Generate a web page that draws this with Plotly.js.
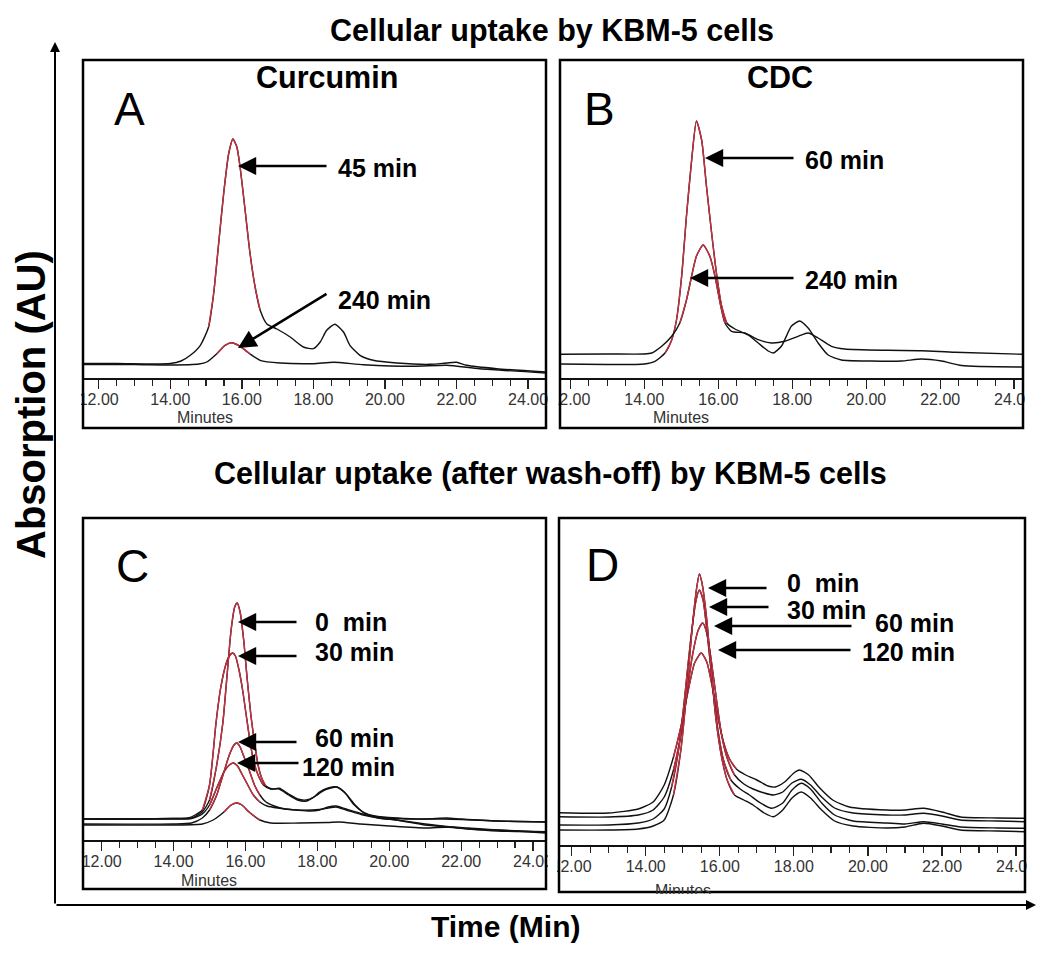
<!DOCTYPE html>
<html><head><meta charset="utf-8">
<script src="https://cdn.plot.ly/plotly-3.0.1.min.js"></script>
<style>
body{margin:0;background:#fff}
#wrap{position:relative;width:1050px;height:956px}
#chart{width:1050px;height:956px}
.mask{position:absolute;background:#fff}
</style>
</head><body>
<div id="wrap"><div id="chart"></div>
<div class="mask" style="left:57px;top:382px;width:24px;height:30px"></div>
<div class="mask" style="left:548px;top:382px;width:10px;height:30px"></div>
<div class="mask" style="left:1025px;top:382px;width:25px;height:30px"></div>
<div class="mask" style="left:57px;top:846px;width:24px;height:30px"></div>
<div class="mask" style="left:548px;top:850px;width:9px;height:30px"></div>
<div class="mask" style="left:1027px;top:850px;width:23px;height:30px"></div>
<div class="mask" style="left:561px;top:894px;width:463px;height:9px"></div>
</div>
<script>
// ---------- DATA (time in minutes, absorbance in arbitrary units) ----------
// Panel A: Curcumin uptake
const tA45 = [11.56,12.5,13.5,14.0,14.3,14.56,14.84,15.07,15.21,15.35,15.49,15.63,15.75,15.86,15.95,16.09,16.23,16.37,16.51,16.7,16.98,17.35,17.72,18.0,18.19,18.37,18.6,18.84,19.02,19.3,19.67,20.33,21.26,21.72,22.0,22.28,23.12,24.5];
const yA45 = [14.5,14.5,14,14.5,17,22.7,32.7,51,84,134,184,224,239,231,211,168,124,91,68,54,49,41,31,29.3,36,47.7,53.7,46,32.7,22.7,17.7,15,13.7,15,15.7,12.7,9.3,6];
const tA240 = [11.56,13,14,14.8,15.02,15.3,15.53,15.72,15.95,16.23,16.51,17.07,18.0,18.56,19.4,20.8,21.72,22.65,24.5];
const yA240 = [13.5,13.5,13,14,16,24.3,32.7,35.3,31.7,24,17.7,15,14.3,15.7,13.3,11.7,12.7,9.3,5];
// Panel B: CDC uptake
const tB60 = [11.72,13,14.0,14.29,14.56,14.74,14.87,15.01,15.14,15.28,15.41,15.55,15.68,15.82,15.95,16.09,16.23,16.45,16.81,17.08,17.35,17.49,17.71,17.98,18.2,18.43,18.7,18.97,19.33,20.14,20.95,21.5,22.04,22.58,24.24];
const yB60 = [14,13.5,14,16.7,25,38,58,102,162,218,257,238,192,145,105,72,55,49,43,35,27,25,32,52,57,50,35,23,18,17,17,19,17,12.5,11];
const tB240 = [11.72,13,14.0,14.2,14.47,14.74,14.96,15.14,15.28,15.41,15.59,15.77,15.91,16.05,16.18,16.36,16.72,17.08,17.44,17.8,18.16,18.43,18.7,19.06,19.42,20.59,21.5,22.4,24.24];
const yB240 = [23.7,24,24,25,31.7,41.7,55,78,102,122,133,122,102,75,55,46.7,45,38.3,35,36.7,41.7,45,40,31.7,29,27.7,27.3,25.7,23.7];
// Panel C: Curcumin after wash-off
const tC0 = [11.48,13.0,14.0,14.5,14.8,15.0,15.2,15.37,15.5,15.6,15.7,15.77,15.85,15.95,16.05,16.15,16.25,16.35,16.45,16.57,16.75,16.94,17.2,17.45,17.69,17.9,18.06,18.3,18.52,18.75,19.0,19.27,19.6,20.2,21.0,21.6,22.0,23.0,24.36];
const yC0 = [21,21,21.5,22,28,40,75,117,170,210,233,237,228,200,160,125,98,75,62,54,51,51.7,46,41,40,43,48,52,53.3,48,36,28,24,22,21,22,21,19,18];
const tC30 = [11.48,13.0,14.0,14.4,14.6,14.8,15.0,15.18,15.3,15.45,15.55,15.64,15.72,15.82,15.92,16.02,16.12,16.22,16.35,16.5,16.7,16.94,17.2,17.45,17.7,17.95,18.2,18.55,18.8,19.05,19.3,19.7,20.5,21.5,22.0,23.0,24.36];
const yC30 = [21,21,21.5,22,25,30,55,117,150,175,184,187,184,170,150,125,100,80,65,55,51,51,45,40,39,44,50,53,46,35,27,23,21,21,20.5,19,18];
const tC60 = [11.48,14.0,14.5,14.8,15.0,15.2,15.4,15.55,15.68,15.76,15.85,15.95,16.1,16.25,16.4,16.57,16.8,17.1,17.41,17.8,18.06,18.3,18.52,18.8,19.27,19.7,20.2,21.0,21.6,22.2,23.0,24.36];
const yC60 = [16,16,17,22,30,45,68,85,95,97,93,84,70,55,45,38,34,31,30,29,30,33,34,31,26,22,20,16,13.5,12,10,8.3];
const tC120 = [11.48,14.0,14.5,14.8,15.0,15.2,15.4,15.55,15.66,15.78,15.9,16.05,16.2,16.4,16.6,16.9,17.41,18.06,18.3,18.52,18.8,19.27,19.7,20.2,21.0,21.6,22.2,23.0,24.36];
const yC120 = [21,21,21.5,26,35,52,68,75,77,74,66,56,46,38,34,32,30,30.5,32,33,30,25,22,20,15,13,11,9,8];
const tCx = [11.48,14.0,14.8,15.1,15.4,15.6,15.76,15.9,16.1,16.4,16.7,17.5,18.3,18.6,19.2,20.0,21.0,21.7,22.2,23.0,24.36];
const yCx = [15,15,16,20,28,35,37,35,28,20,17,17,17.5,18,16,14,12,13,11,10,7];
// Panel D: CDC after wash-off
const tD0 = [11.66,13.0,13.8,14.2,14.5,14.75,14.95,15.1,15.25,15.38,15.45,15.52,15.65,15.78,15.9,16.05,16.2,16.4,16.65,16.9,17.2,17.45,17.7,17.95,18.2,18.45,18.75,19.1,19.6,20.5,21.0,21.5,22.0,22.5,23.5,24.24];
const yD0 = [15,15,16,19,25,50,95,150,215,258,271,262,225,170,125,88,65,50,45,40,32,28.3,35,47,53,47,35,24,19,17,18,21.7,19,15,14,13.3];
const tD30 = [11.66,13,13.8,14.2,14.5,14.7,14.9,15.05,15.2,15.35,15.45,15.55,15.68,15.82,15.95,16.1,16.3,16.55,16.8,17.1,17.4,17.7,17.95,18.2,18.45,18.75,19.1,19.6,20.5,21.0,21.5,22.0,22.5,23.5,24.24];
const yD30 = [20,20,22,26,36,58,98,147,200,243,255,245,205,155,115,85,65,56,50,42,36.7,42,55,61.7,56,42,30,24,22,21,23.3,21,18,17,16.7];
const tD60 = [11.66,13,13.8,14.2,14.5,14.75,14.95,15.1,15.25,15.42,15.54,15.65,15.78,15.92,16.05,16.2,16.4,16.65,16.9,17.2,17.45,17.7,17.95,18.2,18.45,18.75,19.1,19.6,20.5,21.0,21.5,22.0,22.5,23.5,24.24];
const yD60 = [28.3,28,30,35,48,75,110,148,187,215,222,212,182,143,110,87,70,61,56,52,50,53,62,65.7,60,48,37,32,30,30,31.7,29,25,24,23.3];
const tD120 = [11.66,13,13.8,14.2,14.5,14.75,14.95,15.15,15.32,15.5,15.65,15.8,15.95,16.1,16.25,16.45,16.7,17.0,17.3,17.5,17.75,18.0,18.15,18.4,18.7,19.05,19.5,20.5,21.0,21.5,22.0,22.5,23.5,24.24];
const yD120 = [32.3,32,36,43,60,88,118,155,182,192,183,158,128,103,87,76,70,65,59,58,63,72,75,70,57,45,38,35,35,36.7,33,28,27,26.7];

// ---------- STYLE / LAYOUT ----------
const W = 1050, H = 956;
const X = p => p / W, Y = p => 1 - p / H;
const RED = '#c62f3f', BLK = '#111';
const FONT = 'Liberation Sans, Arial, sans-serif';

// panel geometry (pixels): box left/right/top/bottom, axis-line y, x range
const panels = [
  {key:'', box:[83,546,60,428], axisY:378, xr:[11.56,24.5]},
  {key:'2', box:[560,1023,60,428], axisY:378, xr:[11.72,24.24]},
  {key:'3', box:[83,546,518,889], axisY:840, xr:[11.48,24.36]},
  {key:'4', box:[559,1025,518,892], axisY:845, xr:[11.66,24.24]}
];

const series = [
  {p:0, t:tA45, y:yA45, red:[15.0,16.55]},
  {p:0, t:tA240, y:yA240, red:[15.25,16.4]},
  {p:1, t:tB60, y:yB60, red:[14.5,16.3]},
  {p:1, t:tB240, y:yB240, red:[14.9,16.2]},
  {p:2, t:tCx, y:yCx, red:[15.2,16.4]},
  {p:2, t:tC120, y:yC120, red:[14.95,16.4]},
  {p:2, t:tC60, y:yC60, red:[15.0,16.4]},
  {p:2, t:tC30, y:yC30, red:[14.8,16.6]},
  {p:2, t:tC0, y:yC0, red:[14.9,16.6]},
  {p:3, t:tD120, y:yD120, red:[14.7,16.5]},
  {p:3, t:tD60, y:yD60, red:[14.7,16.5]},
  {p:3, t:tD30, y:yD30, red:[14.7,16.5]},
  {p:3, t:tD0, y:yD0, red:[14.7,16.5]}
];

const traces = [];
series.forEach(s => {
  const k = panels[s.p].key;
  traces.push({x:s.t, y:s.y, xaxis:'x'+k, yaxis:'y'+k, type:'scatter', mode:'lines',
    line:{color:BLK, width:1.4, shape:'spline', smoothing:0.6}, hoverinfo:'skip'});
  const rt = [], ry = [];
  s.t.forEach((t,i) => { if (t >= s.red[0] && t <= s.red[1]) { rt.push(t); ry.push(s.y[i]); } });
  traces.push({x:rt, y:ry, xaxis:'x'+k, yaxis:'y'+k, type:'scatter', mode:'lines',
    line:{color:RED, width:1.4, shape:'spline', smoothing:0.6}, hoverinfo:'skip'});
});

const layout = {
  width:W, height:H, margin:{l:0,r:0,t:0,b:0}, showlegend:false,
  paper_bgcolor:'#fff', plot_bgcolor:'rgba(0,0,0,0)',
  font:{family:FONT, color:'#000'},
  shapes:[], annotations:[]
};

panels.forEach(P => {
  const [l,r,t,b] = P.box;
  layout['xaxis'+P.key] = {
    domain:[X(l), X(r)], range:P.xr, anchor:'y'+P.key,
    showline:true, linecolor:'#111', linewidth:1.5,
    ticks:'outside', ticklen:9, tickwidth:1.3, tickcolor:'#222',
    tick0:0, dtick:2, tickformat:'.2f', ticklabelstandoff:-3,
    tickfont:{family:FONT, size:16, color:'#333'},
    minor:{dtick:0.5, ticks:'outside', ticklen:6, tickwidth:1.2, tickcolor:'#222', showgrid:false},
    showgrid:false, zeroline:false, fixedrange:true
  };
  layout['yaxis'+P.key] = {
    domain:[Y(P.axisY), Y(t)], range:[0, P.axisY - t], anchor:'x'+P.key,
    visible:false, fixedrange:true
  };
  layout.shapes.push({type:'rect', xref:'paper', yref:'paper', x0:X(l), x1:X(r), y0:Y(b), y1:Y(t),
    line:{color:'#000', width:2.5}, fillcolor:'rgba(0,0,0,0)'});
});

function txt(text, x, y, size, opts) {
  layout.annotations.push(Object.assign({text:text, xref:'paper', yref:'paper', x:X(x), y:Y(y),
    showarrow:false, font:{family:FONT, size:size, color:'#000'}, xanchor:'center', yanchor:'middle'}, opts||{}));
}
function arrow(x1, y1, x0, y0, w, sz) {
  layout.annotations.push({text:'', xref:'paper', yref:'paper', axref:'paper', ayref:'paper',
    x:X(x1), y:Y(y1), ax:X(x0), ay:Y(y0), showarrow:true, arrowhead:2, arrowsize:sz, arrowwidth:w, arrowcolor:'#000'});
}

// titles
txt('<b>Cellular uptake by KBM-5 cells</b>', 552, 31, 30.5);
txt('<b>Cellular uptake (after wash-off) by KBM-5 cells</b>', 550, 473, 30.5);
txt('<b>Curcumin</b>', 327, 77, 30.5);
txt('<b>CDC</b>', 780, 77, 30.5);
txt('<b>Absorption (AU)</b>', 31, 405, 40, {textangle:-90});
txt('<b>Time (Min)</b>', 505, 926, 30);
// panel letters
txt('A', 129, 109, 46); txt('B', 599, 109, 46); txt('C', 132, 566, 46); txt('D', 602, 565, 46);
// "Minutes"
const mf = {font:{family:FONT, size:16, color:'#333'}};
txt('Minutes', 205, 417, 16, mf); txt('Minutes', 681, 417, 16, mf);
txt('Minutes', 209, 880, 16, mf); txt('Minutes', 683, 890, 16, mf);

// big axis arrows
arrow(55, 42, 55, 905, 2, 1);
arrow(1036, 905, 55, 905, 2, 1);

// peak labels + arrows
const L = (s, x, y) => txt('<b>'+s+'</b>', x, y, 25, {xanchor:'left'});
const AW = 2.6, AS = 1.4;
arrow(238, 166, 328, 166, AW, AS); L('45 min', 336, 168);
arrow(238, 348, 328, 293, AW, AS); L('240 min', 336, 300);
arrow(705, 158, 795, 158, AW, AS); L('60 min', 803, 160);
arrow(690, 278, 795, 278, AW, AS); L('240 min', 803, 280);
arrow(238, 622, 298, 622, AW, AS); L('0&nbsp;&nbsp;min', 313, 622);
arrow(238, 656, 298, 656, AW, AS); L('30 min', 313, 652);
arrow(238, 742, 298, 742, AW, AS); L('60 min', 313, 738);
arrow(237, 763, 300, 763, AW, AS); L('120 min', 300, 767);
arrow(708, 588, 768, 588, AW, AS); L('0&nbsp;&nbsp;min', 785, 583);
arrow(709, 607, 770, 607, AW, AS); L('30 min', 785, 610);
arrow(714, 626, 853, 626, AW, AS); L('60 min', 873, 623);
arrow(718, 650, 852, 650, AW, AS); L('120 min', 860, 652);

Plotly.newPlot('chart', traces, layout, {displayModeBar:false, staticPlot:true});
</script>
</body></html>
